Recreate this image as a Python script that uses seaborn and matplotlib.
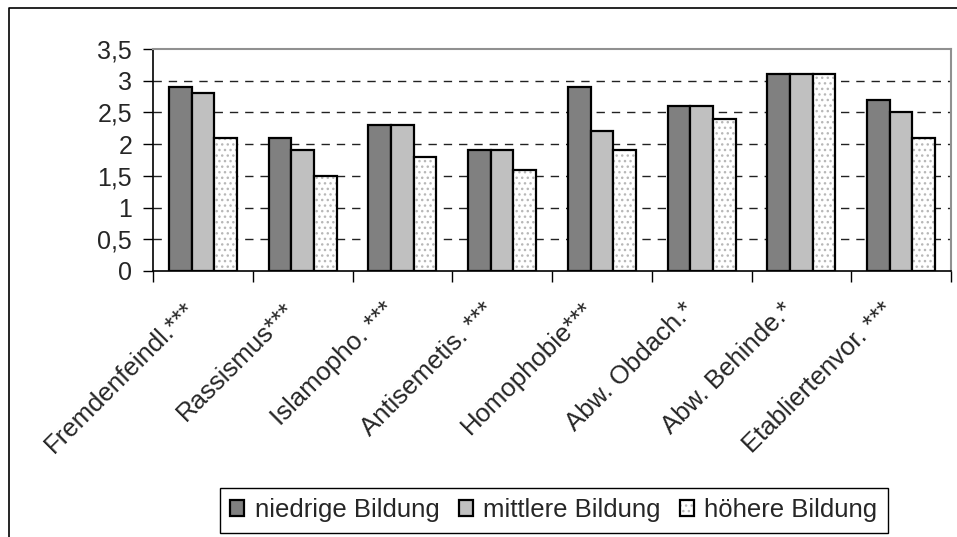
import numpy as np
import pandas as pd
import matplotlib
matplotlib.use("Agg")
import matplotlib.pyplot as plt
from matplotlib.lines import Line2D
from matplotlib.transforms import ScaledTranslation
import seaborn as sns

categories = ["Fremdenfeindl.***", "Rassismus***", "Islamopho. ***", "Antisemetis. ***",
              "Homophobie***", "Abw. Obdach.*", "Abw. Behinde.*", "Etabliertenvor. ***"]
series_names = ["niedrige Bildung", "mittlere Bildung", "höhere Bildung"]
niedrig = [2.9, 2.1, 2.3, 1.9, 2.9, 2.6, 3.1, 2.7]
mittel = [2.8, 1.9, 2.3, 1.9, 2.2, 2.6, 3.1, 2.5]
hoch = [2.1, 1.5, 1.8, 1.6, 1.9, 2.4, 3.1, 2.1]
y_ticks = [0, 0.5, 1, 1.5, 2, 2.5, 3, 3.5]
y_tick_labels = ["0", "0,5", "1", "1,5", "2", "2,5", "3", "3,5"]

sns.set_theme(style="white")
plt.rcParams["font.family"] = ["Liberation Sans", "DejaVu Sans"]
plt.rcParams["hatch.linewidth"] = 1.0

df = pd.DataFrame({
    "cat": categories * 3,
    "val": niedrig + mittel + hoch,
    "edu": [series_names[0]] * 8 + [series_names[1]] * 8 + [series_names[2]] * 8,
})

fig = plt.figure(figsize=(9.57, 5.37), dpi=100)
ax = fig.add_axes([153 / 957, 1 - 271 / 537, (951 - 153) / 957, (271 - 49) / 537])

sns.barplot(data=df, x="cat", y="val", hue="edu", order=categories, hue_order=series_names,
            palette=["#808080", "#c0c0c0", "#ffffff"], saturation=1, edgecolor="black",
            linewidth=1.6, width=0.68, gap=0, errorbar=None, legend=False, ax=ax, zorder=3)

for p in ax.containers[2]:
    p.set_hatch("...")
    p._hatch_color = (0.72, 0.72, 0.72, 1.0)

ax.set_ylim(0, 3.5)
ax.set_xlim(-0.5, len(categories) - 0.5)
ax.set_yticks(y_ticks)
ax.set_yticklabels(y_tick_labels)
ax.set_xticks(np.arange(-0.5, len(categories), 1.0))
ax.set_xticklabels([""] * (len(categories) + 1))
ax.set_xticks(np.arange(len(categories)), minor=True)
ax.set_xticklabels(categories, minor=True)
ax.set_xlabel("")
ax.set_ylabel("")

for y in y_ticks[1:-1]:
    ax.axhline(y, color="#222222", lw=1.0, linestyle=(0, (6, 5)), zorder=1)

ax.tick_params(axis="y", which="major", direction="out", length=7, width=1, color="black",
               labelsize=18, pad=8, left=True)
ax.tick_params(axis="x", which="major", direction="out", length=8, width=1, color="black",
               bottom=True)
ax.tick_params(axis="x", which="minor", length=0, labelsize=18.5, pad=2)

offset = ScaledTranslation(-20 / 100, -24 / 100, fig.dpi_scale_trans)
for lbl in ax.get_xticklabels(minor=True):
    lbl.set_rotation(45)
    lbl.set_ha("right")
    lbl.set_va("top")
    lbl.set_rotation_mode("anchor")
    lbl.set_transform(lbl.get_transform() + offset)

for s in ["left", "bottom"]:
    ax.spines[s].set_color("black")
    ax.spines[s].set_linewidth(1.2)
for s in ["top", "right"]:
    ax.spines[s].set_color("#909090")
    ax.spines[s].set_linewidth(1.5)
ax.set_facecolor("white")

handles = [ax.containers[i][0] for i in range(3)]
leg = fig.legend(handles, series_names, loc="upper left",
                 bbox_to_anchor=(220 / 957, 1 - 488 / 537), ncol=3, fontsize=18.5,
                 frameon=True, fancybox=False, edgecolor="black", framealpha=1,
                 handlelength=0.55, handleheight=0.55, handletextpad=0.4,
                 columnspacing=0.75, borderpad=0.4, borderaxespad=0)
leg.get_frame().set_linewidth(1.0)

fig.add_artist(Line2D([9 / 957, 9 / 957, 1.0], [0.0, 1 - 8 / 537, 1 - 8 / 537],
                      transform=fig.transFigure, color="black", lw=1.2))

fig.savefig("out.png", dpi=100, facecolor="white")
